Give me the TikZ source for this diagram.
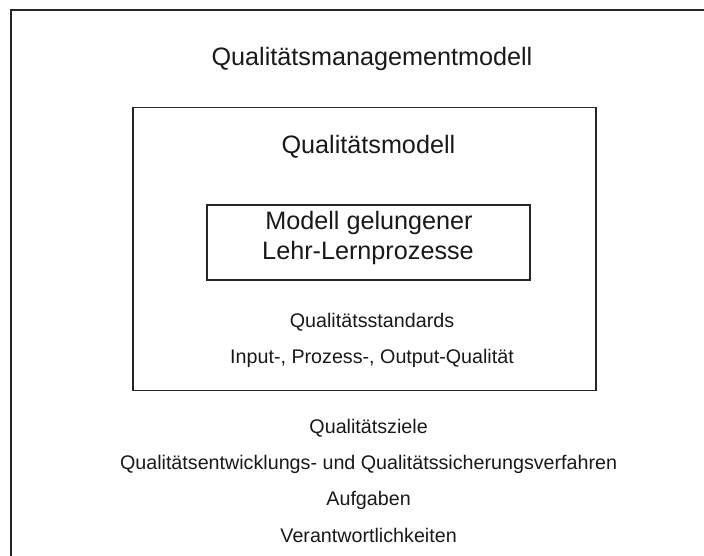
\documentclass[tikz,border=0pt]{standalone}
\usepackage{fontspec}
\setmainfont{Liberation Sans}
\begin{document}
\begin{tikzpicture}[x=1pt,y=-1pt,
  frame/.style={draw=black!85, line width=1.2pt},
  outerframe/.style={draw=black!85, line width=1.6pt},
  big/.style={font=\fontsize{25.2}{30}\selectfont, anchor=base, inner sep=0pt, text=black!90},
  small/.style={font=\fontsize{19.7}{24}\selectfont, anchor=base, inner sep=0pt, text=black!90},
  boxnode/.style={frame, rectangle, inner sep=0pt}
]
\useasboundingbox (0,0) rectangle (704,555);
% outer frame (runs off the right and bottom edges)
\coordinate (otr) at (720,10);
\coordinate (otl) at (11,10);
\coordinate (obl) at (11,570);
\draw[outerframe] (otr) -- (otl) -- (obl);

% inner boxes
\node[boxnode, minimum width=463pt, minimum height=283pt] (qmodell) at (364.5,249) {};
\node[boxnode, minimum width=323pt, minimum height=75pt] (lehr) at (368.5,242.5) {};

% texts
\node[big] (t1) at (372,65) {Qualitätsmanagementmodell};
\node[big] (t2) at (368.4,153) {Qualitätsmodell};
\node[big] (t3) at (369,229) {Modell gelungener};
\node[big] (t4) at (368,259) {Lehr-Lernprozesse};
\node[small] (t5) at (372,327) {Qualitätsstandards};
\node[small] (t6) at (372,363) {Input-, Prozess-, Output-Qualität};
\node[small] (t7) at (368.6,433) {Qualitätsziele};
\node[small] (t8) at (368.6,469) {Qualitätsentwicklungs- und Qualitätssicherungsverfahren};
\node[small] (t9) at (368.6,505) {Aufgaben};
\node[small] (t10) at (368.6,542) {Verantwortlichkeiten};
\end{tikzpicture}
\end{document}
